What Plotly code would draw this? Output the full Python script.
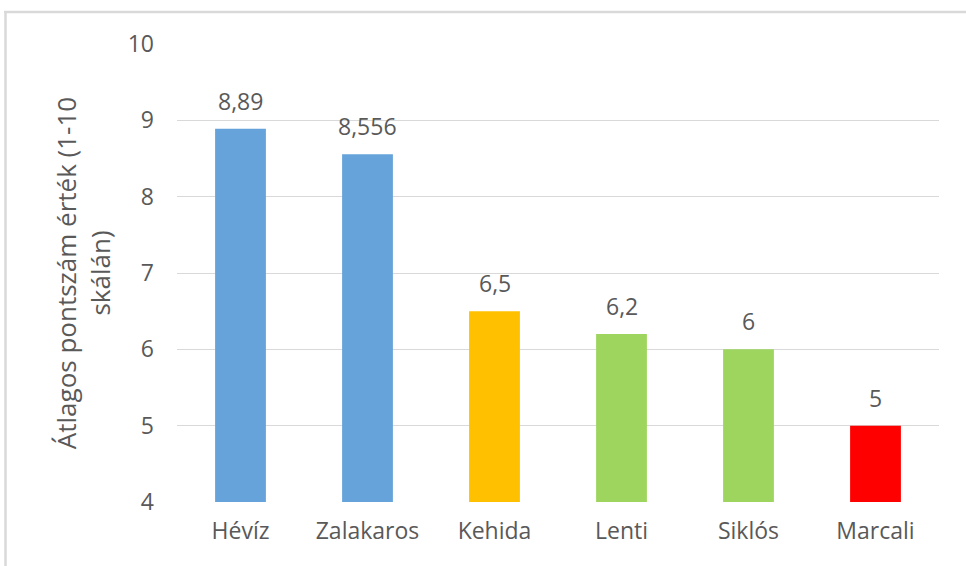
import plotly.graph_objects as go

categories = ["Hévíz", "Zalakaros", "Kehida", "Lenti", "Siklós", "Marcali"]
values = [8.89, 8.556, 6.5, 6.2, 6.0, 5.0]
bar_colors = ["#65A3DA", "#65A3DA", "#FFC000", "#9DD55F", "#9DD55F", "#FF0000"]
y_ticks = [4, 5, 6, 7, 8, 9, 10]
y_title = "Átlagos pontszám érték (1-10<br>skálán)"

labels = [("%g" % v).replace(".", ",") for v in values]

FONT = "Open Sans"
GRAY = "#595959"
FS = 23

fig = go.Figure()
fig.add_trace(go.Bar(
    x=categories, y=values, marker=dict(color=bar_colors, line=dict(width=0)),
    width=0.4, hoverinfo="skip",
))

for c, v, t in zip(categories, values, labels):
    fig.add_annotation(x=c, y=v, text=t, showarrow=False, yanchor="bottom",
                       yshift=10, font=dict(family=FONT, size=FS, color=GRAY))

W, H = 966, 566
L, R, T, B = 177, 27, 44, 64
pw, ph = W - L - R, H - T - B

def px(x):
    return (x - L) / pw

def py(y):
    return (H - B - y) / ph

# outer chart border (top and left visible)
fig.add_shape(type="line", xref="paper", yref="paper", x0=px(4), x1=px(970),
              y0=py(12), y1=py(12), line=dict(color="#D9D9D9", width=2.5))
fig.add_shape(type="line", xref="paper", yref="paper", x0=px(5.5), x1=px(5.5),
              y0=py(11), y1=py(570), line=dict(color="#D9D9D9", width=2.5))

fig.update_layout(
    width=W, height=H,
    margin=dict(l=L, r=R, t=T, b=B, pad=0),
    paper_bgcolor="white", plot_bgcolor="white",
    showlegend=False,
    font=dict(family=FONT, size=FS, color=GRAY),
    xaxis=dict(showgrid=False, showline=False, ticks="", tickfont=dict(size=FS, color=GRAY),
               ticklabelstandoff=13),
    yaxis=dict(range=[4, 10], tickvals=y_ticks, showgrid=True, gridcolor="#D9D9D9",
               gridwidth=1, zeroline=False, showline=False, ticks="",
               tickfont=dict(size=FS, color=GRAY), ticklabelstandoff=22,
               title=dict(text=y_title, font=dict(size=26, color=GRAY), standoff=9)),
)

fig.write_html("out.html", config={"displayModeBar": False},
               post_script="document.body.style.margin='0';document.body.style.overflow='hidden';")
